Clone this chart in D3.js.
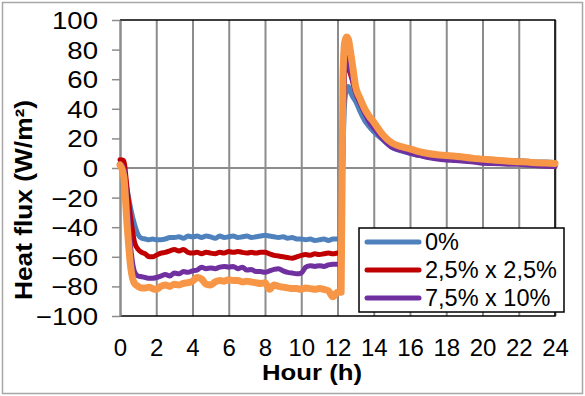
<!DOCTYPE html>
<html>
<head>
<meta charset="utf-8">
<script src="https://cdn.jsdelivr.net/npm/d3@7"></script>
<style>
  html, body { margin: 0; padding: 0; background: #fff; }
  svg { display: block; font-family: "Liberation Sans", Arial, sans-serif; }
  .grid line { stroke: #8c8c8c; stroke-width: 2; }
  .grid path { display: none; }
</style>
</head>
<body>
<div id="chart"></div>
<script>
// hours (denser around the step changes)
var hours = [0, 0.2, 0.4, 0.6, 0.8, 1, 1.2, 1.4, 1.6, 1.8, 2,
  2.25, 2.5, 2.75, 3, 3.25, 3.5, 3.75, 4, 4.25, 4.5, 4.75, 5, 5.25, 5.5, 5.75, 6,
  6.25, 6.5, 6.75, 7, 7.25, 7.5, 7.75, 8, 8.25, 8.5, 8.75, 9, 9.25, 9.5, 9.75, 10,
  10.25, 10.5, 10.75, 11, 11.25, 11.5, 11.75, 12,
  12.1, 12.2, 12.3, 12.4, 12.5, 12.6, 12.7, 12.8, 13, 13.25, 13.5, 13.75, 14,
  14.5, 15, 15.5, 16, 16.5, 17, 17.5, 18, 18.5, 19, 19.5, 20, 20.5, 21, 21.5, 22, 22.5, 23, 23.5, 24];

var flux0 = [3, 0, -15, -28, -38, -45, -47.5, -48, -48.5, -48, -48.5,
  -48.5, -48, -47, -47, -46.5, -47.5, -46, -46.5, -46, -47, -46, -46.5, -47.5, -46, -47, -46.5,
  -46, -47, -46.5, -46, -47, -46.5, -46, -45.5, -46, -46.5, -47, -46.5, -47.5, -47, -48, -48,
  -48.5, -48, -49, -48.5, -48, -49, -48, -48,
  -48, -48, 10, 45, 53, 55, 52, 49, 45, 38, 32, 28, 24.5,
  19, 14, 11.5, 10, 8.5, 7.5, 6.8, 6.2, 6, 5.5, 5.3, 5, 5, 5, 5, 5, 4.5, 4, 4, 3.8];

var flux25 = [5.5, 5, -15, -35, -50, -55, -57, -58, -60, -60, -59,
  -57.5, -57, -56, -55, -56, -55, -57, -57.5, -57, -58, -57, -57.5, -58, -57, -57.5, -56.5,
  -57, -56.5, -57, -57.5, -57, -57.5, -57, -57, -58, -59, -59.5, -60, -60.5, -61, -60, -59,
  -58.5, -59, -58, -58.5, -58, -57.5, -58, -57.5,
  -57.5, -57.5, 20, 65, 70, 68, 64, 60, 51, 44, 37.5, 32, 28,
  21, 16, 13, 11, 9.5, 8.3, 7.5, 7, 8.5, 7, 5.5, 5, 4.5, 4, 3.5, 3, 2.5, 2, 1.5, 1];

var flux75 = [3, 0, -25, -55, -70, -73, -73.5, -74, -74.5, -74.5, -74,
  -73, -72, -73, -71, -71.5, -70, -70.5, -69.5, -69, -67, -68, -67.5, -68, -67, -66.5, -67,
  -66.5, -68, -67, -69, -68.5, -70, -70, -70.5, -69.5, -68.5, -68, -69.5, -70.5, -71, -71.5, -71,
  -67, -66, -66.5, -66, -66.5, -65.5, -65, -65,
  -65, -65, 20, 70, 75, 72, 66, 61, 51.5, 44, 37, 31, 27,
  19.5, 14, 12, 10, 8.5, 7, 6, 5.4, 5, 4.5, 4, 3.2, 3, 2.8, 2.5, 2.5, 2, 1.5, 1.2, 1];

var fluxOrange = [2, -5, -40, -68, -78, -80, -81, -81, -80.5, -81.5, -82,
  -80, -79, -80, -78.5, -79, -78, -77.5, -76.5, -74, -75, -78.5, -79, -77, -76, -76.5, -75.5,
  -76, -76, -77, -76.5, -77, -77.5, -78, -77.5, -82, -79, -80, -80.5, -81, -81.5, -81.5, -82,
  -81, -81.5, -82, -81.5, -82, -83, -87, -84,
  -84, -84, 60, 85, 88.5, 87, 80, 72, 55, 47, 40, 35, 31,
  22.5, 17, 14.5, 13, 11, 9.8, 9, 8.5, 8, 7.2, 6.5, 6, 5.5, 5, 4.6, 4.3, 4, 3.5, 3.3, 3];

var xTicks = [0, 2, 4, 6, 8, 10, 12, 14, 16, 18, 20, 22, 24];
var yTicks = [-100, -80, -60, -40, -20, 0, 20, 40, 60, 80, 100];

var seriesNames = ['0%', '2,5% x 2,5%', '7,5% x 10%', ''];
var seriesColors = ['#4f81bd', '#c00000', '#7030a0', '#f79646'];
var seriesValues = [flux0, flux25, flux75, fluxOrange];

var W = 585, H = 396;
var plotLeft = 120, plotRight = 555, plotTop = 20, plotBottom = 316;
var SY = 1.15; // y labels in the picture look wide

var x = d3.scaleLinear().domain([0, 24]).range([plotLeft, plotRight]);
var y = d3.scaleLinear().domain([-100, 100]).range([plotBottom, plotTop]);

var svg = d3.select('#chart').append('svg')
  .attr('width', W).attr('height', H);

svg.append('rect')
  .attr('x', 2.5).attr('y', 2.5).attr('width', W - 5).attr('height', H - 5)
  .attr('fill', '#fff').attr('stroke', '#a6a6a6').attr('stroke-width', 1.5);

// vertical gridlines
svg.append('g')
  .attr('class', 'grid')
  .attr('transform', 'translate(0,' + plotBottom + ')')
  .call(d3.axisBottom(x).tickValues(xTicks).tickSize(-(plotBottom - plotTop)).tickFormat(''));

// zero line
svg.append('line')
  .attr('x1', plotLeft).attr('x2', plotRight).attr('y1', y(0)).attr('y2', y(0))
  .attr('stroke', '#8c8c8c').attr('stroke-width', 2);

// plot border (top, right, bottom)
svg.append('path')
  .attr('d', 'M' + plotLeft + ',' + plotTop + 'H' + plotRight + 'V' + plotBottom + 'H' + plotLeft)
  .attr('fill', 'none').attr('stroke', '#000').attr('stroke-width', 1.5);

// y axis
var yAxis = svg.append('g')
  .attr('transform', 'translate(' + plotLeft + ',0)')
  .call(d3.axisLeft(y).tickValues(yTicks).tickSize(8).tickSizeOuter(0));
yAxis.select('.domain').attr('stroke', '#8c8c8c').attr('stroke-width', 2);
yAxis.selectAll('.tick line').attr('stroke', '#8c8c8c').attr('stroke-width', 1.5);
yAxis.selectAll('text')
  .attr('x', -22 / SY).attr('dy', '0.35em')
  .attr('transform', 'scale(' + SY + ',1)')
  .style('font-size', '24px').style('fill', '#000');

// x axis labels
var xAxis = svg.append('g')
  .attr('transform', 'translate(0,' + plotBottom + ')')
  .call(d3.axisBottom(x).tickValues(xTicks).tickSize(0));
xAxis.select('.domain').remove();
xAxis.selectAll('text')
  .attr('y', 39.5).attr('dy', 0)
  .style('font-size', '24px').style('fill', '#000');

// series
var line = d3.line()
  .x(function (d) { return x(d[0]); })
  .y(function (d) { return y(d[1]); })
  .curve(d3.curveMonotoneX);

seriesValues.forEach(function (vals, i) {
  svg.append('path')
    .datum(hours.map(function (h, k) { return [h, vals[k]]; }))
    .attr('fill', 'none')
    .attr('stroke', seriesColors[i])
    .attr('stroke-width', i === 3 ? 7 : 5)
    .attr('stroke-linejoin', 'round')
    .attr('stroke-linecap', 'round')
    .attr('d', line);
});

// axis titles
svg.append('text')
  .attr('transform', 'translate(32,200) rotate(-90)')
  .attr('text-anchor', 'middle')
  .style('font-size', '24px').style('font-weight', 'bold')
  .attr('textLength', 200).attr('lengthAdjust', 'spacingAndGlyphs')
  .text('Heat flux (W/m\u00b2)');

svg.append('text')
  .attr('x', 312).attr('y', 380)
  .attr('text-anchor', 'middle')
  .style('font-size', '22px').style('font-weight', 'bold')
  .attr('textLength', 100).attr('lengthAdjust', 'spacingAndGlyphs')
  .text('Hour (h)');

// legend (only the first three series)
var legend = svg.append('g');
legend.append('rect')
  .attr('x', 359).attr('y', 228).attr('width', 205).attr('height', 84)
  .attr('fill', '#fff').attr('stroke', '#000').attr('stroke-width', 1.5);

seriesNames.slice(0, 3).forEach(function (name, i) {
  var ly = 242 + i * 28;
  legend.append('line')
    .attr('x1', 367).attr('x2', 419).attr('y1', ly).attr('y2', ly)
    .attr('stroke', seriesColors[i]).attr('stroke-width', 5)
    .attr('stroke-linecap', 'round');
  legend.append('text')
    .attr('x', 425).attr('y', ly).attr('dy', '0.35em')
    .style('font-size', '23.5px')
    .text(name);
});
</script>
</body>
</html>
